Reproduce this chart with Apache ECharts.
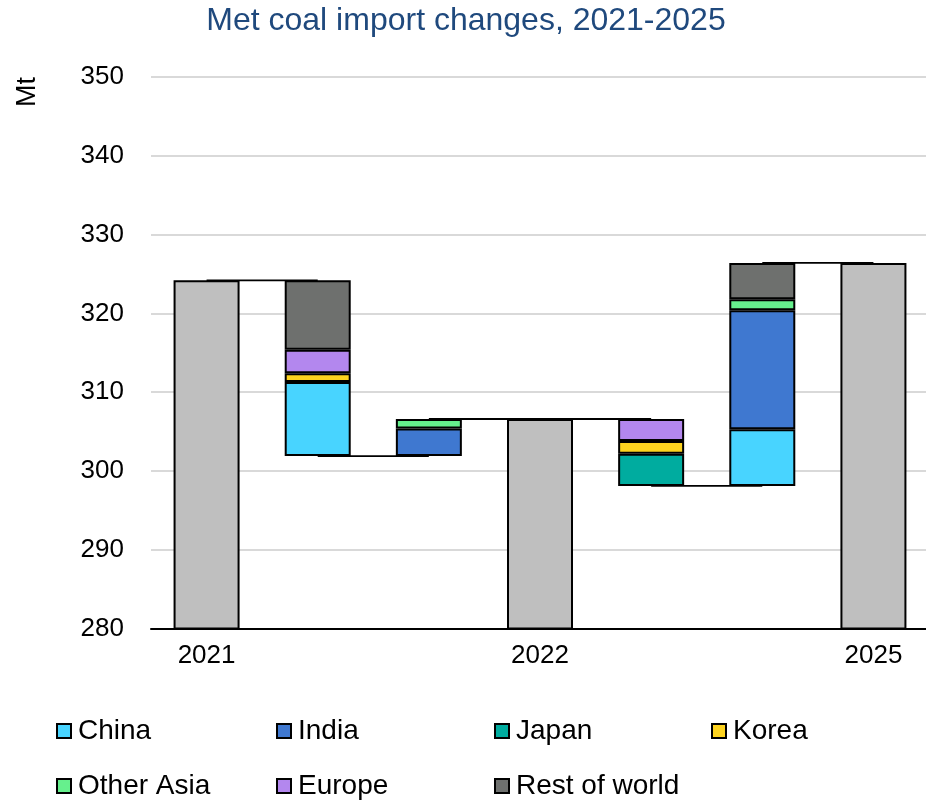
<!DOCTYPE html>
<html>
<head>
<meta charset="utf-8">
<script src="https://cdn.jsdelivr.net/npm/echarts@6/dist/echarts.min.js"></script>
<style>
html,body{margin:0;padding:0;background:#fff;}
#chart{width:926px;height:803px;}
</style>
</head>
<body>
<div id="chart"></div>
<script>
// ---- data ----
var categories = ['2021', '', '', '2022', '', '', '2025'];
var totals = [324.2, null, null, 306.6, null, null, 326.4];
var regions = ['China', 'India', 'Japan', 'Korea', 'Other Asia', 'Europe', 'Rest of world'];
// changes per region for the four change columns: 2021-22 decreases, 2021-22 increases, 2022-25 decreases, 2022-25 increases
var chinaChange = [-9.4, 0, 0, 7.2];
var indiaChange = [0, 3.5, 0, 15.1];
var japanChange = [0, 0, -4.1, 0];
var koreaChange = [-1.1, 0, -1.6, 0];
var otherAsiaChange = [0, 1.2, 0, 1.4];
var europeChange = [-3.0, 0, -2.8, 0];
var restOfWorldChange = [-8.8, 0, 0, 4.6];
var yTicks = [280, 290, 300, 310, 320, 330, 340, 350];

var colors = {
  'China': '#48D4FF', 'India': '#3F78D0', 'Japan': '#00AC9F', 'Korea': '#FDD31F',
  'Other Asia': '#66F08D', 'Europe': '#B387EE', 'Rest of world': '#6E706E'
};
var changeLists = [chinaChange, indiaChange, japanChange, koreaChange, otherAsiaChange, europeChange, restOfWorldChange];
var changeCols = [1, 2, 4, 5]; // category index of each change column
var startTotals = [0, 0, 3, 3];

// compute waterfall bases
var base = categories.map(function () { return '-'; });
var running = totals[0];
changeCols.forEach(function (col, k) {
  var sum = 0;
  changeLists.forEach(function (l) { sum += l[k]; });
  if (k === 0 || k === 2) running = totals[startTotals[k]];
  base[col] = sum < 0 ? running + sum : running;
  running = running + sum;
});
// connector levels
var cum = totals[0];
var ends = [];
for (var i = 0; i < categories.length; i++) {
  if (totals[i] != null) { cum = totals[i]; ends.push(cum); }
  else {
    var k = changeCols.indexOf(i);
    var s = 0; changeLists.forEach(function (l) { s += l[k]; });
    cum = cum + s; ends.push(cum);
  }
}
var connectors = [];
for (var j = 0; j < categories.length - 1; j++) connectors.push([j, ends[j]]);

var series = [];
series.push({
  name: 'base', type: 'bar', stack: 'wf', barWidth: 66,
  itemStyle: {color: 'rgba(0,0,0,0)', borderWidth: 0},
  data: base, silent: true, z: 3
});
regions.forEach(function (r, idx) {
  var d = categories.map(function () { return '-'; });
  changeCols.forEach(function (col, k) {
    var v = Math.abs(changeLists[idx][k]);
    if (v > 0) d[col] = +v.toFixed(2);
  });
  series.push({
    name: r, type: 'bar', stack: 'wf', barWidth: 66,
    itemStyle: {color: colors[r], borderColor: '#000', borderWidth: 2},
    data: d, z: 3
  });
});
series.push({
  name: 'Total', type: 'bar', stack: 'wf', barWidth: 66,
  itemStyle: {color: '#BFBFBF', borderColor: '#000', borderWidth: 2},
  data: totals.map(function (v) { return v == null ? '-' : v; }), z: 3
});
series.push({
  name: 'connector', type: 'custom', z: 1, silent: true,
  data: connectors,
  renderItem: function (params, api) {
    var p1 = api.coord([api.value(0), api.value(1)]);
    var p2 = api.coord([api.value(0) + 1, api.value(1)]);
    return {type: 'line', shape: {x1: p1[0], y1: p1[1], x2: p2[0], y2: p2[1]},
      style: {stroke: '#000', lineWidth: 1.8}};
  }
});

var legendPos = [[56, 717], [276, 717], [494, 717], [711, 717], [56, 772], [276, 772], [494, 772]];
var legends = regions.map(function (r, i) {
  return {data: [r], left: legendPos[i][0], top: legendPos[i][1], padding: 0,
    icon: 'rect', itemWidth: 14, itemHeight: 14,
    itemStyle: {borderWidth: 2, borderColor: '#000'},
    textStyle: {fontSize: 28, color: '#000', fontFamily: 'Liberation Sans', padding: [0, 0, 0, 2]}};
});

var chart = echarts.init(document.getElementById('chart'), null, {renderer: 'canvas'});
chart.setOption({
  animation: false,
  backgroundColor: '#fff',
  textStyle: {fontFamily: 'Liberation Sans'},
  title: {text: 'Met coal import changes, 2021-2025', left: 466, textAlign: 'center', top: 5, padding: 0,
    textStyle: {fontSize: 32, fontWeight: 'normal', color: '#1F497D', fontFamily: 'Liberation Sans'}},
  legend: legends,
  grid: {left: 151, top: 77, width: 778, height: 551.6, containLabel: false, outerBoundsMode: 'none'},
  xAxis: {
    type: 'category', data: categories,
    axisLine: {lineStyle: {color: '#000', width: 2}},
    axisTick: {show: false},
    axisLabel: {interval: 0, fontSize: 26, color: '#000', margin: 14, fontFamily: 'Liberation Sans'}
  },
  yAxis: {
    type: 'value', min: yTicks[0], max: yTicks[yTicks.length - 1], interval: 10,
    axisLine: {show: false}, axisTick: {show: false},
    axisLabel: {fontSize: 26, color: '#000', margin: 27, fontFamily: 'Liberation Sans'},
    splitLine: {lineStyle: {color: '#D9D9D9', width: 2}}
  },
  graphic: [{
    type: 'text', x: 28, y: 92, rotation: Math.PI / 2,
    style: {text: 'Mt', fontSize: 27, fill: '#000', fontFamily: 'Liberation Sans', align: 'center', verticalAlign: 'middle'}
  }],
  series: series
});
</script>
</body>
</html>
